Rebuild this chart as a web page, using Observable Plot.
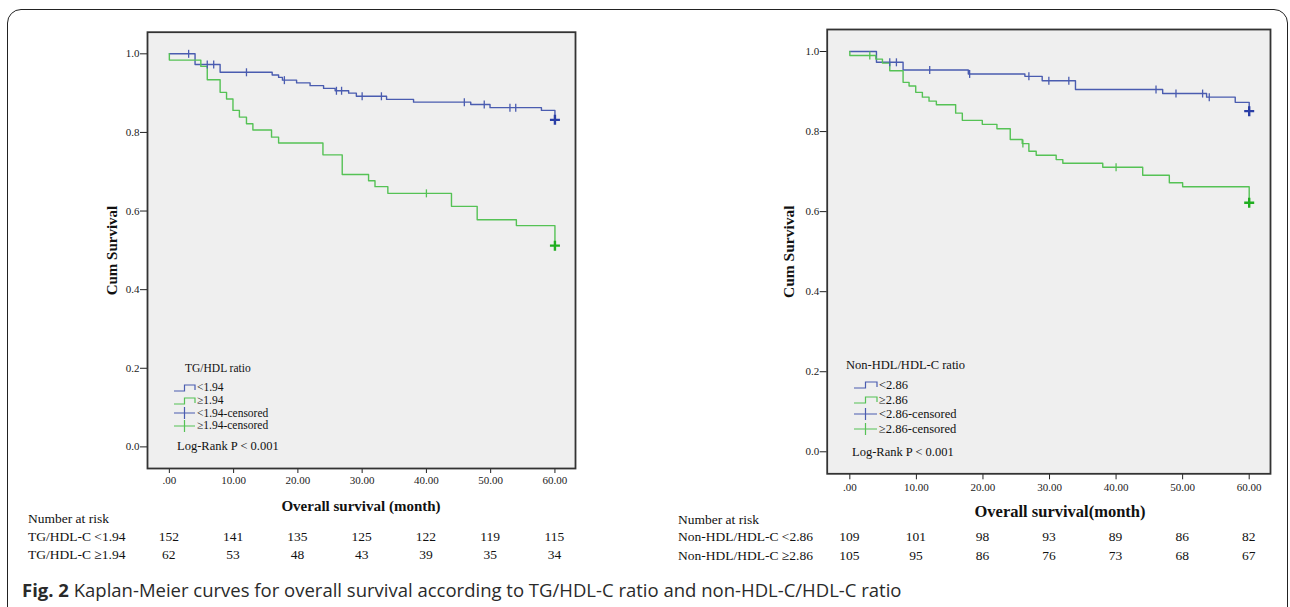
<!DOCTYPE html>
<html><head><meta charset="utf-8">
<script src="https://cdn.jsdelivr.net/npm/d3@7"></script>
<script src="https://cdn.jsdelivr.net/npm/@observablehq/plot@0.6"></script>
<style>
body{margin:0;background:#fff;}
#fig{position:relative;width:1290px;height:607px;overflow:hidden;background:#fff;font-family:"Liberation Serif",serif;color:#111;}
.t{position:absolute;white-space:nowrap;line-height:1;}
#box{position:absolute;left:7px;top:9px;width:1279px;height:640px;border:1.6px solid #222;border-radius:14px;}
</style></head><body><div id="fig"><div id="box"></div></div>
<script>
// ---------- data ----------
const xTicks = [0, 10, 20, 30, 40, 50, 60];
const yTicks = [0, 0.2, 0.4, 0.6, 0.8, 1.0];

// Left panel: TG/HDL ratio
const tgLowTime = [0, 4.0, 7.9, 16.0, 17.0, 17.6, 19.8, 21.9, 24.0, 25.8, 27.9, 29.1, 33.8, 38.0, 46.9, 49.9, 57.9, 60];
const tgLowSurv = [1.0, 0.973, 0.953, 0.946, 0.940, 0.933, 0.926, 0.919, 0.912, 0.906, 0.900, 0.892, 0.884, 0.877, 0.871, 0.863, 0.856, 0.832];
const tgLowCensor = [3.0, 5.9, 6.9, 12.0, 17.9, 26.0, 26.8, 30.0, 33.0, 45.9, 49.0, 53.0, 53.9];
const tgHighTime = [0, 0, 4.9, 5.9, 7.9, 8.9, 9.9, 10.9, 12.0, 13.0, 15.9, 17.0, 23.9, 26.9, 31.0, 32.0, 34.0, 43.9, 47.9, 54.0, 60];
const tgHighSurv = [1.0, 0.984, 0.968, 0.934, 0.902, 0.885, 0.856, 0.839, 0.822, 0.806, 0.788, 0.773, 0.743, 0.693, 0.677, 0.662, 0.645, 0.612, 0.578, 0.563, 0.512];
const tgHighCensor = [40.0];
const tgRiskLow = [152, 141, 135, 125, 122, 119, 115];
const tgRiskHigh = [62, 53, 48, 43, 39, 35, 34];

// Right panel: Non-HDL/HDL-C ratio
const nonLowTime = [0, 4.0, 8.0, 17.8, 26.3, 28.9, 33.9, 47.0, 53.6, 57.9, 60];
const nonLowSurv = [1.0, 0.973, 0.954, 0.944, 0.938, 0.927, 0.905, 0.895, 0.886, 0.873, 0.851];
const nonLowCensor = [6.0, 7.0, 12.0, 18.0, 26.9, 29.9, 32.9, 46.0, 49.0, 53.0, 54.0];
const nonHighTime = [0, 0, 3.9, 4.9, 6.0, 8.0, 8.9, 9.9, 10.9, 11.9, 13.0, 15.9, 16.9, 19.9, 22.1, 24.1, 25.9, 26.9, 28.0, 31.0, 32.0, 38.0, 44.0, 48.0, 50.0, 60];
const nonHighSurv = [1.0, 0.990, 0.981, 0.971, 0.952, 0.923, 0.914, 0.898, 0.886, 0.876, 0.867, 0.846, 0.828, 0.818, 0.807, 0.780, 0.770, 0.751, 0.741, 0.730, 0.721, 0.711, 0.691, 0.672, 0.662, 0.622];
const nonHighCensor = [3.0, 26.0, 40.0];
const nonRiskLow = [109, 101, 98, 93, 89, 86, 82];
const nonRiskHigh = [105, 95, 86, 76, 73, 68, 67];

const finalCensorTime = 60;

// ---------- helpers ----------
const BLUE = "#4a5cb0", GREEN = "#55c255", BLUE_D = "#2a3ea6", GREEN_D = "#1fae1f";
const fig = document.getElementById("fig");
function text(str, x, y, o = {}) {
  const d = document.createElement("div");
  d.className = "t";
  d.innerHTML = str;
  const size = o.size || 12;
  d.style.fontSize = size + "px";
  d.style.top = (y - size / 2) + "px";
  d.style.left = x + "px";
  if (o.bold) d.style.fontWeight = "bold";
  if (o.family) d.style.fontFamily = o.family;
  if (o.color) d.style.color = o.color;
  let tr = "";
  if (o.center) tr += "translateX(-50%) ";
  if (o.rotate) { tr = "translate(-50%,0) rotate(-90deg)"; d.style.transformOrigin = "50% 50%"; }
  if (tr) d.style.transform = tr;
  fig.appendChild(d);
  return d;
}
function rows(times, surv) { return times.map((t, i) => ({t, s: surv[i]})); }
function stepAt(times, surv, t) { let v = surv[0]; for (let i = 0; i < times.length; i++) if (times[i] <= t) v = surv[i]; return v; }
function cens(times, surv, cs) { return cs.map(t => ({t, s: stepAt(times, surv, t)})); }
const vtick = {draw(ctx) { ctx.moveTo(0, -4); ctx.lineTo(0, 4); }};
const plusBold = {draw(ctx) { ctx.moveTo(-5, 0); ctx.lineTo(5, 0); ctx.moveTo(0, -5); ctx.lineTo(0, 5); }};

function panel(cfg) {
  const p = Plot.plot({
    width: cfg.width, height: cfg.height,
    marginLeft: cfg.ml, marginRight: cfg.mr, marginTop: cfg.mt, marginBottom: cfg.mb,
    style: {fontFamily: "Liberation Serif", fontSize: "11px", background: "transparent", color: "#222", overflow: "visible"},
    x: {domain: [-3.4, 63.2]},
    y: {domain: [-0.055, 1.055]},
    marks: [
      Plot.frame({fill: "#efefef", stroke: null}),
      Plot.axisY({ticks: yTicks, tickFormat: d => d.toFixed(1), tickSize: 7, tickPadding: 1, label: null, fontSize: 11}),
      Plot.axisX({ticks: xTicks, tickFormat: d => d === 0 ? ".00" : d.toFixed(2), tickSize: cfg.xts, tickPadding: 3, label: null, fontSize: 11}),
      Plot.line(rows(cfg.lowT, cfg.lowS), {x: "t", y: "s", curve: "step-after", stroke: BLUE, strokeWidth: 1.4}),
      Plot.line(rows(cfg.highT, cfg.highS), {x: "t", y: "s", curve: "step-after", stroke: GREEN, strokeWidth: 1.4}),
      Plot.dot(cens(cfg.lowT, cfg.lowS, cfg.lowC), {x: "t", y: "s", symbol: vtick, stroke: BLUE, strokeWidth: 1.3, fill: "none"}),
      Plot.dot(cens(cfg.highT, cfg.highS, cfg.highC), {x: "t", y: "s", symbol: vtick, stroke: GREEN, strokeWidth: 1.3, fill: "none"}),
      Plot.dot(cens(cfg.lowT, cfg.lowS, [finalCensorTime]), {x: "t", y: "s", symbol: plusBold, stroke: BLUE_D, strokeWidth: 2.4, fill: "none"}),
      Plot.dot(cens(cfg.highT, cfg.highS, [finalCensorTime]), {x: "t", y: "s", symbol: plusBold, stroke: GREEN_D, strokeWidth: 2.4, fill: "none"}),
      Plot.frame({stroke: "#333", strokeWidth: 1.8})
    ]
  });
  p.style.position = "absolute";
  p.style.left = cfg.left + "px";
  p.style.top = cfg.top + "px";
  fig.appendChild(p);
  return p;
}

function legend(x0, y0, title, items, size, symW, titleX) {
  text(title, titleX, y0, {size});
  items.forEach((it, i) => {
    const y = it.y;
    const s = document.createElementNS("http://www.w3.org/2000/svg", "svg");
    s.setAttribute("width", symW + 2); s.setAttribute("height", 14);
    s.style.position = "absolute"; s.style.left = x0 + "px"; s.style.top = (y - 7) + "px";
    const path = document.createElementNS("http://www.w3.org/2000/svg", "path");
    const w = symW;
    path.setAttribute("d", it.kind === "step" ? `M0,10 H${w / 2} V4 H${w} V9` : `M0,7 H${w} M${w / 2},1 V13`);
    path.setAttribute("fill", "none"); path.setAttribute("stroke", it.color); path.setAttribute("stroke-width", 1.2);
    s.appendChild(path);
    fig.appendChild(s);
    text(it.label, x0 + symW + 2, y, {size});
  });
}

// ---------- left panel ----------
const L = panel({left: 0, top: 0, width: 620, height: 500, ml: 147, mr: 45, mt: 31.7, mb: 32, xts: 5,
  lowT: tgLowTime, lowS: tgLowSurv, lowC: tgLowCensor, highT: tgHighTime, highS: tgHighSurv, highC: tgHighCensor});
const R = panel({left: 680, top: 0, width: 610, height: 510, ml: 146.7, mr: 20, mt: 29, mb: 36.7, xts: 6,
  lowT: nonLowTime, lowS: nonLowSurv, lowC: nonLowCensor, highT: nonHighTime, highS: nonHighSurv, highC: nonHighCensor});

text("Cum Survival", 112, 250, {size: 15, bold: true, rotate: true});
text("Cum Survival", 789, 252, {size: 15.5, bold: true, rotate: true});
text("Overall survival (month)", 361, 506, {size: 15, bold: true, center: true});
text("Overall survival(month)", 1060, 512, {size: 16.5, bold: true, center: true});

legend(174, 369, "TG/HDL ratio", [
  {kind: "step", color: BLUE, label: "&lt;1.94", y: 388},
  {kind: "step", color: GREEN, label: "≥1.94", y: 400.7},
  {kind: "cens", color: BLUE, label: "&lt;1.94-censored", y: 413.3},
  {kind: "cens", color: GREEN, label: "≥1.94-censored", y: 426}
], 11.5, 21, 185);
text("Log-Rank P &lt; 0.001", 177, 446, {size: 12.5});

legend(854, 365, "Non-HDL/HDL-C ratio", [
  {kind: "step", color: BLUE, label: "&lt;2.86", y: 385},
  {kind: "step", color: GREEN, label: "≥2.86", y: 400},
  {kind: "cens", color: BLUE, label: "&lt;2.86-censored", y: 414.3},
  {kind: "cens", color: GREEN, label: "≥2.86-censored", y: 429}
], 12.5, 23, 846);
text("Log-Rank P &lt; 0.001", 852, 452.7, {size: 12.5});

// ---------- number at risk ----------
const lx = L.scale("x"), rx = R.scale("x");
const TS = 13.5;
text("Number at risk", 28, 519, {size: TS});
text("TG/HDL-C &lt;1.94", 28, 537, {size: TS});
text("TG/HDL-C ≥1.94", 28, 555, {size: TS});
xTicks.forEach((t, i) => {
  text(String(tgRiskLow[i]), lx.apply(t), 537, {size: TS, center: true});
  text(String(tgRiskHigh[i]), lx.apply(t), 555, {size: TS, center: true});
});
text("Number at risk", 678, 520, {size: TS});
text("Non-HDL/HDL-C &lt;2.86", 678, 537, {size: TS});
text("Non-HDL/HDL-C ≥2.86", 678, 556, {size: TS});
xTicks.forEach((t, i) => {
  text(String(nonRiskLow[i]), 680 + rx.apply(t), 537, {size: TS, center: true});
  text(String(nonRiskHigh[i]), 680 + rx.apply(t), 556, {size: TS, center: true});
});

// ---------- caption ----------
text("<b style='font-weight:700'>Fig. 2</b> Kaplan-Meier curves for overall survival according to TG/HDL-C ratio and non-HDL-C/HDL-C ratio", 22, 590, {size: 18.5, family: "'Open Sans', sans-serif", color: "#2a2a2a"});
</script></body></html>
